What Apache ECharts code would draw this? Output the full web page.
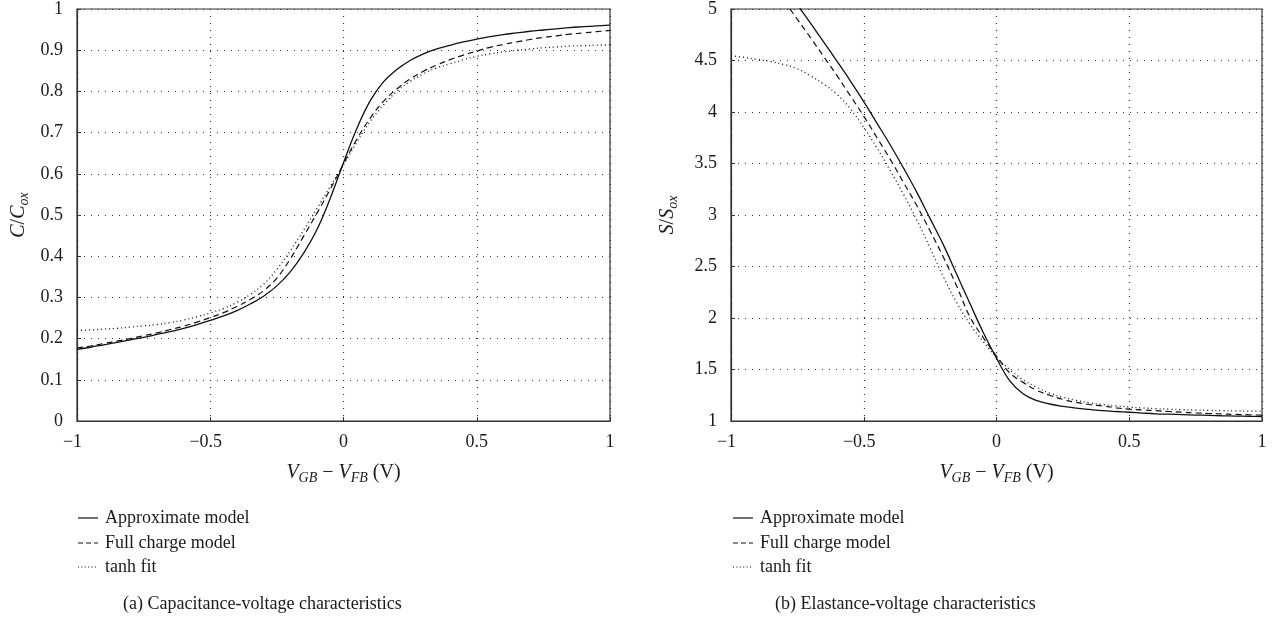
<!DOCTYPE html>
<html>
<head>
<meta charset="utf-8">
<script src="https://cdn.jsdelivr.net/npm/echarts@6/dist/echarts.min.js"></script>
<style>
html,body{margin:0;padding:0;background:#fff;}
#chart{width:1276px;height:623px;}
</style>
</head>
<body>
<div id="chart"></div>
<script>
// gate voltage V_GB - V_FB (V), shared by both panels
const voltages = [-1,-0.95,-0.9,-0.85,-0.8,-0.75,-0.7,-0.65,-0.6,-0.55,-0.5,-0.45,-0.4,-0.35,-0.3,-0.25,-0.2,-0.15,-0.1,-0.05,0,
                  0.05,0.1,0.15,0.2,0.25,0.3,0.35,0.4,0.45,0.5,0.55,0.6,0.65,0.7,0.75,0.8,0.85,0.9,0.95,1];

// ---- Panel (a): C/Cox ----
const approxA = [0.174,0.179,0.185,0.191,0.197,0.203,0.210,0.217,0.225,0.234,0.244,0.255,0.268,0.284,0.303,0.328,0.362,0.407,0.464,0.540,0.627,
                 0.710,0.777,0.823,0.853,0.875,0.891,0.903,0.912,0.920,0.927,0.933,0.938,0.942,0.946,0.949,0.952,0.955,0.957,0.959,0.961];
const fullA   = [0.177,0.182,0.188,0.194,0.200,0.207,0.214,0.222,0.230,0.240,0.251,0.263,0.278,0.295,0.316,0.347,0.393,0.448,0.504,0.562,0.624,
                 0.684,0.735,0.776,0.806,0.830,0.849,0.864,0.877,0.888,0.898,0.907,0.914,0.920,0.926,0.931,0.935,0.939,0.942,0.945,0.948];
const tanhA   = [0.220,0.221,0.223,0.225,0.228,0.231,0.234,0.239,0.245,0.253,0.262,0.273,0.288,0.307,0.332,0.368,0.413,0.463,0.515,0.569,0.622,
                 0.677,0.727,0.767,0.800,0.824,0.843,0.857,0.867,0.877,0.885,0.891,0.896,0.900,0.903,0.906,0.908,0.910,0.911,0.912,0.913];

// ---- Panel (b): S/Sox (null = above the 5.0 top of the axis) ----
const approxB = [null,null,null,null,5.22,5.04,4.86,4.675,4.49,4.30,4.10,3.89,3.68,3.455,3.22,2.965,2.71,2.425,2.14,1.86,1.61,
                 1.39,1.265,1.20,1.165,1.142,1.125,1.112,1.10,1.092,1.085,1.077,1.07,1.066,1.062,1.058,1.055,1.051,1.048,1.045,1.043];
const fullB   = [null,null,null,null,5.08,4.90,4.72,4.535,4.35,4.155,3.96,3.75,3.54,3.315,3.09,2.845,2.59,2.31,2.01,1.81,1.63,
                 1.467,1.375,1.30,1.25,1.21,1.18,1.16,1.145,1.128,1.115,1.107,1.10,1.092,1.085,1.079,1.073,1.068,1.064,1.06,1.057];
const tanhB   = [4.546,4.53,4.51,4.49,4.46,4.42,4.35,4.27,4.17,4.03,3.85,3.65,3.43,3.20,2.95,2.68,2.40,2.15,1.94,1.77,1.62,
                 1.50,1.40,1.33,1.27,1.23,1.20,1.177,1.16,1.146,1.135,1.127,1.12,1.115,1.11,1.106,1.103,1.10,1.098,1.096,1.094];

const seriesNames = ['Approximate model','Full charge model','tanh fit'];
const captionA = '(a) Capacitance-voltage characteristics';
const captionB = '(b) Elastance-voltage characteristics';

const FONT = '"Liberation Serif", "DejaVu Serif", serif';
const INK = '#1a1a1a';
const LINE = '#111';

function pairs(xs, ys){ return xs.map((x,i)=>[x, ys[i]]); }

const lineTypes = ['solid',[6,4],[1,3]];
const legendDash = [null,[5,3],[1,2.4]];
const lineWidths = [1.3,1.2,1.3];

const rich = {
  i:{fontFamily:FONT,fontSize:20,fontStyle:'italic',color:INK},
  n:{fontFamily:FONT,fontSize:20,color:INK},
  s:{fontFamily:FONT,fontSize:14,fontStyle:'italic',color:INK,padding:[10,0,0,0]}
};
const tickRich = {
  m:{fontFamily:FONT,fontSize:18,color:INK,padding:[0,9,0,0]},
  p:{fontFamily:FONT,fontSize:18,color:INK}
};

function makeX(idx){
  return {
    gridIndex: idx, type:'value', min:-1, max:1, interval:0.5,
    axisLine:{show:true,onZero:false,lineStyle:{color:'#333',width:1.2}},
    axisTick:{show:true,inside:true,length:4,lineStyle:{color:'#333'}},
    axisLabel:{margin:12,rich:tickRich,
      formatter:v=> v<0 ? '{m|\u2212'+String(-v)+'}' : '{p|'+v+'}'},
    splitLine:{show:true,lineStyle:{color:'#333',type:[1,6],width:1.2}},
    name:'{i|V}{s|GB}{n| \u2212 }{i|V}{s|FB}{n| (V)}',
    nameLocation:'middle', nameGap:40,
    nameTextStyle:{rich:rich}
  };
}
function makeY(idx,min,max,interval,nameStr,gap){
  return {
    gridIndex: idx, type:'value', min:min, max:max, interval:interval,
    axisLine:{show:true,onZero:false,lineStyle:{color:'#333',width:1.2}},
    axisTick:{show:true,inside:true,length:4,lineStyle:{color:'#333'}},
    axisLabel:{color:INK,fontFamily:FONT,fontSize:18,margin:14},
    splitLine:{show:true,lineStyle:{color:'#333',type:[1,6],width:1.2}},
    name:nameStr, nameLocation:'middle', nameGap:gap, nameRotate:90,
    nameTextStyle:{rich:rich}
  };
}

const series = [];
[[approxA,fullA,tanhA],[approxB,fullB,tanhB]].forEach((set,gi)=>{
  set.forEach((ys,k)=>{
    series.push({
      name: seriesNames[k], type:'line', xAxisIndex:gi, yAxisIndex:gi,
      data: pairs(voltages, ys), showSymbol:false, symbol:'none',
      smooth:0.4, connectNulls:false, clip:true,
      lineStyle:{color:LINE,width:lineWidths[k],type:lineTypes[k]},
      itemStyle:{color:LINE},
      animation:false
    });
  });
});

// legend keys (line samples + labels) and captions
function legendGraphics(x0){
  const rows = [518,543,567];
  const out = [];
  seriesNames.forEach((nm,k)=>{
    const st = {stroke:LINE, lineWidth:1.2};
    if (legendDash[k]) st.lineDash = legendDash[k];
    out.push({type:'line', shape:{x1:x0, y1:rows[k], x2:x0+20, y2:rows[k]}, style:st, silent:true});
    out.push({type:'text', x:x0+27, y:rows[k], style:{text:nm, font:'18px '+FONT, fill:INK, textVerticalAlign:'middle', verticalAlign:'middle'}, silent:true});
  });
  return out;
}

const chart = echarts.init(document.getElementById('chart'), null, {renderer:'canvas'});
chart.setOption({
  backgroundColor:'#fff',
  animation:false,
  grid:[
    {left:77, top:7, width:533, height:414, show:true, borderColor:'#333', borderWidth:1.2, backgroundColor:'transparent'},
    {left:731, top:7, width:531, height:414, show:true, borderColor:'#333', borderWidth:1.2, backgroundColor:'transparent'}
  ],
  xAxis:[makeX(0), makeX(1)],
  yAxis:[
    makeY(0,0,1,0.1,'{i|C}{n|/}{i|C}{s|ox}',46),
    makeY(1,1,5,0.5,'{i|S}{n|/}{i|S}{s|ox}',51)
  ],
  graphic:[].concat(
    legendGraphics(78),
    legendGraphics(733),
    [
      {type:'text', x:123, y:604, style:{text:captionA, font:'18px '+FONT, fill:INK, textVerticalAlign:'middle', verticalAlign:'middle'}},
      {type:'text', x:775, y:604, style:{text:captionB, font:'18px '+FONT, fill:INK, textVerticalAlign:'middle', verticalAlign:'middle'}}
    ]
  ),
  series: series
});
</script>
</body>
</html>
